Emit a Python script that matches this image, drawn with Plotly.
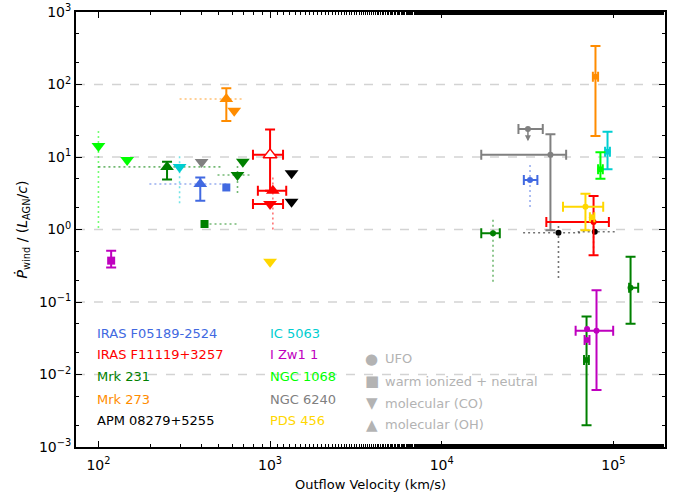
import numpy as np
import plotly.graph_objects as go

# ---------------- data ----------------
SOURCES = ["IRAS F05189-2524", "IRAS F11119+3257", "Mrk 231", "Mrk 273", "APM 08279+5255",
           "IC 5063", "I Zw1 1", "NGC 1068", "NGC 6240", "PDS 456"]
COLORS = ["#4169E1", "#FF0000", "#008000", "#FF8C00", "#000000",
          "#00CED1", "#BF00BF", "#00FF00", "#808080", "#FFD700"]
KINDS = ["UFO", "warm ionized + neutral", "molecular (CO)", "molecular (OH)"]
KIND_SYMBOL = {"UFO": "circle", "warm ionized + neutral": "square",
               "molecular (CO)": "triangle-down", "molecular (OH)": "triangle-up"}

N = None
# source, kind, velocity, pdot, vlo, vhi, plo, phi, dotted vlo, dotted vhi, dotted plo, dotted phi, open marker
SRC  = ["NGC 1068", "NGC 1068", "Mrk 231", "IC 5063", "NGC 6240", "IRAS F05189-2524", "IRAS F05189-2524",
        "Mrk 231", "Mrk 231", "Mrk 231", "I Zw1 1", "PDS 456", "IRAS F11119+3257", "IRAS F11119+3257",
        "IRAS F11119+3257", "APM 08279+5255", "APM 08279+5255", "Mrk 273", "Mrk 273", "Mrk 273",
        "IC 5063", "NGC 1068", "NGC 6240", "NGC 6240", "IRAS F05189-2524", "Mrk 231",
        "APM 08279+5255", "APM 08279+5255", "IRAS F11119+3257", "PDS 456", "PDS 456",
        "Mrk 231", "Mrk 231", "I Zw1 1", "I Zw1 1", "I Zw1 1"]
KIND = ["molecular (CO)", "molecular (CO)", "molecular (OH)", "molecular (CO)", "molecular (CO)",
        "molecular (OH)", "warm ionized + neutral", "molecular (CO)", "molecular (CO)",
        "warm ionized + neutral", "warm ionized + neutral", "molecular (CO)", "molecular (OH)",
        "molecular (OH)", "molecular (CO)", "molecular (CO)", "molecular (CO)", "molecular (OH)",
        "molecular (CO)", "UFO", "UFO", "UFO", "UFO", "UFO", "UFO", "UFO", "UFO", "UFO", "UFO",
        "UFO", "UFO", "UFO", "UFO", "UFO", "UFO", "UFO"]
VEL  = [100, 147, 251, 297, 399, 392, 556, 694, 646, 415, 118.6, 1000, 1000, 1038, 1000, 1334, 1334,
        556, 618, 78700, 92500, 84100, 31800, 43000, 32700, 19900, 47900, 78000, 76700, 68800, 75000,
        126000, 69800, 79800, 70300, 70300]
PDOT = [14.2, 9.1, 7.3, 7.3, 8.5, 4.25, 3.8, 8.6, 5.65, 1.19, 0.372, 0.36, 10.7, 3.43, 2.25, 5.96, 2.42,
        63, 43.5, 128, 11.8, 6.8, 24.3, 10.7, 4.8, 0.89, 0.90, 0.93, 1.27, 2.06, 1.47,
        0.157, 0.0158, 0.040, 0.0425, 0.030]
VLO  = [N, N, N, N, N, N, N, N, N, N, N, N, 795, 849, 795, N, N, N, N, 76000, 89500, 81500, 28000,
        17000, 30100, 17000, N, N, 40700, 50900, 73000, 123600, 67500, 60300, N, 68000]
VHI  = [N, N, N, N, N, N, N, N, N, N, N, N, 1190, 1242, 1190, N, N, N, N, 81500, 95500, 86800, 38800,
        53100, 36100, 21800, N, N, 94200, 87300, 77500, 139600, 72000, 99800, N, 72600]
PLO  = [N, N, 4.9, N, N, 2.5, N, N, N, N, 0.30, N, 3.43, N, N, N, N, 31.4, N, 19.5, 6.8, 5.0, N,
        0.98, N, N, N, N, 0.44, 0.98, N, 0.050, 0.002, 0.0061, N, N]
PHI  = [N, N, 8.6, N, N, 5.2, N, N, N, N, 0.51, N, 24, N, N, N, N, 89, N, 340, 22.3, 11.6, N,
        20.6, N, N, N, N, 2.9, 3.12, N, 0.42, 0.063, 0.145, N, N]
DVLO = [N, N, 100, N, N, 198, N, N, 494, 415, N, N, N, N, N, N, N, 297, N, N, N, N, N, N, N, N,
        29800, 62000, N, N, N, N, N, N, N, N]
DVHI = [N, N, 528, N, N, 556, N, N, 790, 664, N, N, N, N, N, N, N, 694, N, N, N, N, N, N, N, N,
        66400, 104500, N, N, N, N, N, N, N, N]
DPLO = [1.05, N, N, 2.3, N, N, N, N, 3.2, N, N, N, N, 1.0, N, N, N, N, N, N, N, N, N, N, 2.04,
        0.19, 0.214, N, 0.47, N, N, N, N, N, N, N]
DPHI = [24, N, N, 10.7, N, N, N, N, 7.8, N, N, N, N, 5.3, N, N, N, N, N, N, N, N, N, N, 7.8,
        1.43, 1.38, N, 1.98, N, N, N, N, N, N, N]
OPEN = [i == 12 for i in range(len(SRC))]
UPPER_LIMIT = [i == 22 for i in range(len(SRC))]

Y_TICKS = [1e-3, 1e-2, 1e-1, 1e0, 1e1, 1e2, 1e3]
Y_TICK_TEXT = ["10<sup>−3</sup>", "10<sup>−2</sup>", "10<sup>−1</sup>", "10<sup>0</sup>",
               "10<sup>1</sup>", "10<sup>2</sup>", "10<sup>3</sup>"]
X_TICKS = [1e2, 1e3, 1e4, 1e5]
X_TICK_TEXT = ["10<sup>2</sup>", "10<sup>3</sup>", "10<sup>4</sup>", "10<sup>5</sup>"]
GRID_Y = [1e-2, 1e-1, 1e0, 1e1, 1e2]
X_RANGE = [74, 2e5]
Y_RANGE = [1e-3, 1e3]

# ---------------- figure ----------------
FONT = "DejaVu Sans"
color_of = dict(zip(SOURCES, COLORS))


def rgba(hexc, a):
    h = hexc.lstrip("#")
    return "rgba(%d,%d,%d,%.2f)" % (int(h[0:2], 16), int(h[2:4], 16), int(h[4:6], 16), a)


fig = go.Figure()

# grid lines
for g in GRID_Y:
    fig.add_shape(type="line", xref="paper", x0=0, x1=1, yref="y", y0=g, y1=g,
                  line=dict(color="#d3d3d3", width=1.5, dash="dash"), layer="below")

# dotted ranges
for i in range(len(SRC)):
    c = rgba(color_of[SRC[i]], 0.55)
    if DVLO[i] is not None:
        fig.add_trace(go.Scatter(x=[DVLO[i], DVHI[i]], y=[PDOT[i], PDOT[i]], mode="lines",
                                 line=dict(color=c, width=1.6, dash="2px,3px"), hoverinfo="skip",
                                 showlegend=False))
    if DPLO[i] is not None:
        fig.add_trace(go.Scatter(x=[VEL[i], VEL[i]], y=[DPLO[i], DPHI[i]], mode="lines",
                                 line=dict(color=c, width=1.6, dash="2px,3px"), hoverinfo="skip",
                                 showlegend=False))

# points
for i in range(len(SRC)):
    c = color_of[SRC[i]]
    sym = KIND_SYMBOL[KIND[i]]
    if KIND[i] == "UFO":
        size = 6
    elif KIND[i] == "warm ionized + neutral":
        size = 8
    else:
        size = 12
    kw = {}
    if VLO[i] is not None:
        kw["error_x"] = dict(type="data", symmetric=False, array=[VHI[i] - VEL[i]],
                             arrayminus=[VEL[i] - VLO[i]], color=c, thickness=2, width=5)
    if PLO[i] is not None:
        kw["error_y"] = dict(type="data", symmetric=False, array=[PHI[i] - PDOT[i]],
                             arrayminus=[PDOT[i] - PLO[i]], color=c, thickness=2, width=5)
    if OPEN[i]:
        marker = dict(symbol=sym, size=size, color="white", line=dict(color=c, width=1.5))
    else:
        marker = dict(symbol=sym, size=size, color=c, line=dict(width=0))
    fig.add_trace(go.Scatter(x=[VEL[i]], y=[PDOT[i]], mode="markers", marker=marker,
                             showlegend=False, **kw))
    if UPPER_LIMIT[i]:
        fig.add_annotation(x=np.log10(VEL[i]), y=np.log10(PDOT[i] * 0.68), ax=np.log10(VEL[i]),
                           ay=np.log10(PDOT[i]), xref="x", yref="y", axref="x", ayref="y",
                           showarrow=True, arrowhead=2, arrowsize=0.8, arrowwidth=1.5,
                           arrowcolor=c, text="")

# source labels
col_x = [0.032, 0.326]
row_y = [0.262, 0.2115, 0.161, 0.110, 0.0598]
for k, (name, col) in enumerate(zip(SOURCES, COLORS)):
    fig.add_annotation(x=col_x[k // 5], y=row_y[k % 5], xref="paper", yref="paper",
                       text=name, showarrow=False, xanchor="left", yanchor="middle",
                       font=dict(family=FONT, size=13, color=col))

# marker-type labels
glyph = {"UFO": "●", "warm ionized + neutral": "■", "molecular (CO)": "▼", "molecular (OH)": "▲"}
kind_y = [0.2023, 0.1517, 0.1011, 0.0506]
for k, kind in enumerate(KINDS):
    fig.add_annotation(x=0.5025, y=kind_y[k], xref="paper", yref="paper", text=glyph[kind],
                       showarrow=False, xanchor="center", yanchor="middle",
                       font=dict(family=FONT, size=15, color="#b3b3b3"))
    fig.add_annotation(x=0.521, y=kind_y[k], xref="paper", yref="paper", text=kind,
                       showarrow=False, xanchor="left", yanchor="middle",
                       font=dict(family=FONT, size=13, color="#b3b3b3"))

axis_common = dict(type="log", showgrid=False, zeroline=False, showline=True, linecolor="black",
                   linewidth=2, mirror="ticks", ticks="inside", ticklen=6, tickwidth=1,
                   tickcolor="black", automargin=False,
                   tickfont=dict(family=FONT, size=14, color="black"),
                   minor=dict(ticks="inside", ticklen=3, tickcolor="black", tickwidth=1, showgrid=False))

fig.update_xaxes(range=[np.log10(X_RANGE[0]), np.log10(X_RANGE[1])], tickvals=X_TICKS,
                 ticktext=X_TICK_TEXT, ticklabelstandoff=4,
                 title=dict(text="Outflow Velocity (km/s)", font=dict(family=FONT, size=13), standoff=8),
                 **axis_common)
fig.update_yaxes(range=[np.log10(Y_RANGE[0]), np.log10(Y_RANGE[1])], tickvals=Y_TICKS,
                 ticktext=Y_TICK_TEXT,
                 title=dict(text="<i>Ṗ</i><sub>wind</sub> / (<i>L</i><sub>AGN</sub>/<i>c</i>)",
                            font=dict(family=FONT, size=14), standoff=8),
                 **axis_common)

fig.update_layout(width=685, height=492, margin=dict(l=76, r=20, t=12, b=45),
                  paper_bgcolor="white", plot_bgcolor="white", showlegend=False,
                  font=dict(family=FONT, size=13, color="black"))

fig.write_html("out.html")
